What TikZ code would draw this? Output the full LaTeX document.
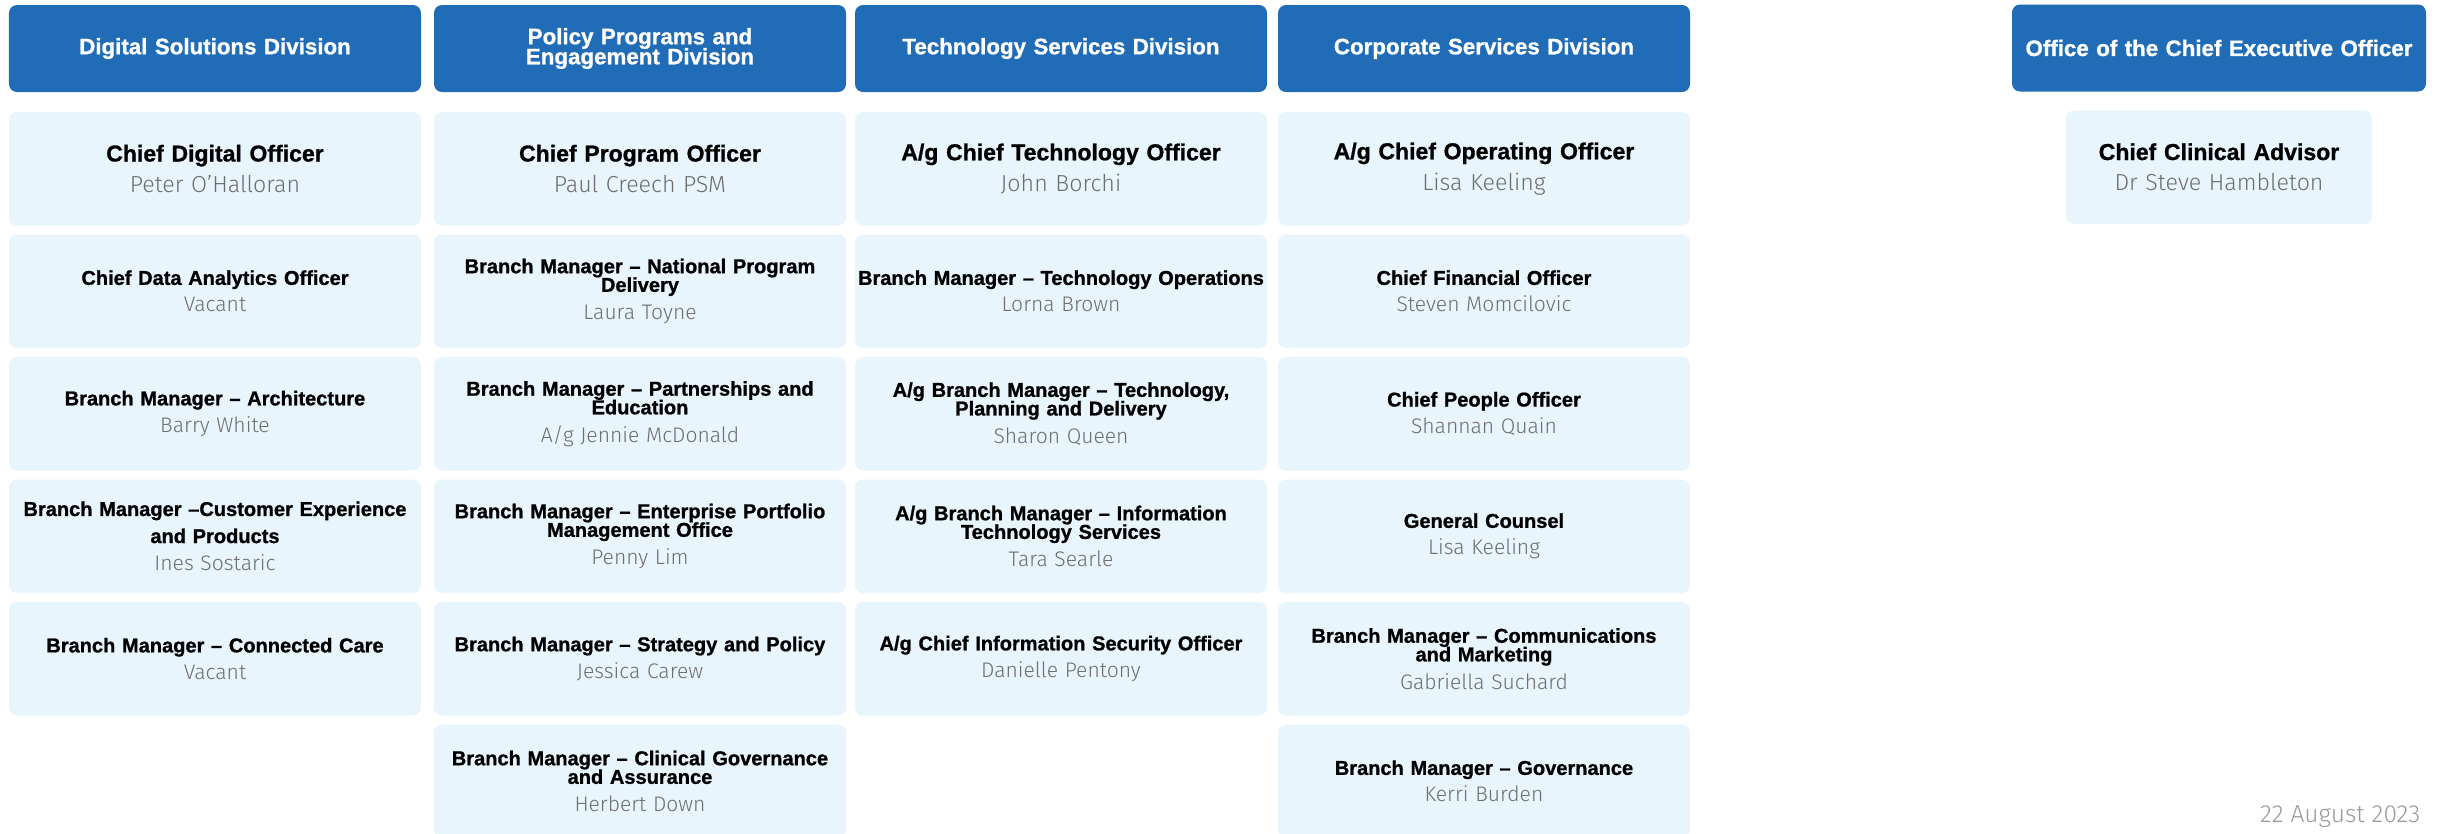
\documentclass[tikz,border=0pt]{standalone}
\usepackage{fontspec}
\setmainfont{Liberation Sans}[BoldFeatures={FakeBold=1}]
\newfontfamily\namefont{Fira Sans Light}
\usetikzlibrary{positioning}
\definecolor{divblue}{HTML}{206CB6}
\definecolor{cardblue}{HTML}{E8F5FC}
\definecolor{namegray}{HTML}{6E6E6E}
\definecolor{dategray}{HTML}{9A9A9A}
\newcommand\namesize{\fontsize{6}{6}\selectfont}
\newcommand\post[3][2.4pt]{#2\\[#1]{\namefont\mdseries\namesize\color{namegray}#3}}

\begin{document}
\begin{tikzpicture}[node distance=0.09cm,
    division/.style={fill=divblue, text=white, rounded corners=0.08cm,
        minimum width=4.12cm, minimum height=0.87cm, text width=4.1cm,
        align=center, inner sep=0pt, outer sep=0pt,
        font={\bfseries\fontsize{6.35}{5.7}\selectfont\lineskiplimit=-5pt}},
    role/.style={fill=cardblue, rounded corners=0.08cm,
        minimum width=4.12cm, minimum height=1.135cm, text width=4.1cm,
        align=center, inner sep=0pt, outer sep=0pt,
        font={\bfseries\fontsize{5.7}{5.3}\selectfont\lineskiplimit=-5pt}},
    lead/.style={role,
        font={\bfseries\fontsize{6.55}{6}\selectfont\lineskiplimit=-5pt},
        execute at begin node={\renewcommand\namesize{\fontsize{6.6}{6.6}\selectfont}}}]
    \useasboundingbox (0,0) rectangle (24.38,-8.33);

    \node[division] (dsd) at (2.15,-0.485) {Digital Solutions Division};
    \node[lead] (dsd1) [below=0.2cm of dsd] {\post[2.8pt]{Chief Digital Officer}{Peter O’Halloran}};
    \node[role] (dsd2) [below=of dsd1] {\post{Chief Data Analytics Officer}{Vacant}};
    \node[role] (dsd3) [below=of dsd2] {\post{Branch Manager – Architecture}{Barry White}};
    \node[role] (dsd4) [below=of dsd3] {\post[2.6pt]{Branch Manager –Customer Experience\\[2.4pt]and Products}{Ines Sostaric}};
    \node[role] (dsd5) [below=of dsd4] {\post{Branch Manager – Connected Care}{Vacant}};

    \node[division] (ppe) at (6.40,-0.485) {Policy Programs and\\Engagement Division};
    \node[lead] (ppe1) [below=0.2cm of ppe] {\post[2.8pt]{Chief Program Officer}{Paul Creech PSM}};
    \node[role] (ppe2) [below=of ppe1] {\post[2.6pt]{Branch Manager – National Program\\Delivery}{Laura Toyne}};
    \node[role] (ppe3) [below=of ppe2] {\post[2.6pt]{Branch Manager – Partnerships and\\Education}{A/g Jennie McDonald}};
    \node[role] (ppe4) [below=of ppe3] {\post[2.6pt]{Branch Manager – Enterprise Portfolio\\Management Office}{Penny Lim}};
    \node[role] (ppe5) [below=of ppe4] {\post{Branch Manager – Strategy and Policy}{Jessica Carew}};
    \node[role] (ppe6) [below=of ppe5] {\post[2.6pt]{Branch Manager – Clinical Governance\\and Assurance}{Herbert Down}};

    \node[division] (tsd) at (10.61,-0.485) {Technology Services Division};
    \node[lead] (tsd1) [below=0.2cm of tsd] {\post[2.8pt]{A/g Chief Technology Officer}{John Borchi}};
    \node[role] (tsd2) [below=of tsd1] {\post{Branch Manager – Technology Operations}{Lorna Brown}};
    \node[role] (tsd3) [below=of tsd2] {\post[2.6pt]{A/g Branch Manager – Technology,\\Planning and Delivery}{Sharon Queen}};
    \node[role] (tsd4) [below=of tsd3] {\post[2.6pt]{A/g Branch Manager – Information\\Technology Services}{Tara Searle}};
    \node[role] (tsd5) [below=of tsd4] {\post{A/g Chief Information Security Officer}{Danielle Pentony}};

    \node[division] (csd) at (14.84,-0.485) {Corporate Services Division};
    \node[lead] (csd1) [below=0.2cm of csd] {\post[2.8pt]{A/g Chief Operating Officer}{Lisa Keeling}};
    \node[role] (csd2) [below=of csd1] {\post{Chief Financial Officer}{Steven Momcilovic}};
    \node[role] (csd3) [below=of csd2] {\post{Chief People Officer}{Shannan Quain}};
    \node[role] (csd4) [below=of csd3] {\post{General Counsel}{Lisa Keeling}};
    \node[role] (csd5) [below=of csd4] {\post[2.6pt]{Branch Manager – Communications\\and Marketing}{Gabriella Suchard}};
    \node[role] (csd6) [below=of csd5] {\post{Branch Manager – Governance}{Kerri Burden}};

    \node[division, minimum width=4.14cm, text width=4.14cm] (oceo) at (22.19,-0.48) {Office of the Chief Executive Officer};
    \node[lead, minimum width=3.06cm, text width=3.0cm] (oceo1) [below=0.19cm of oceo] {\post[2.8pt]{Chief Clinical Advisor}{Dr Steve Hambleton}};

    \node[font={\namefont\fontsize{7}{7}\selectfont}, text=dategray, anchor=base east, inner sep=0pt] (date) at (24.21,-8.22) {22 August 2023};
\end{tikzpicture}
\end{document}
